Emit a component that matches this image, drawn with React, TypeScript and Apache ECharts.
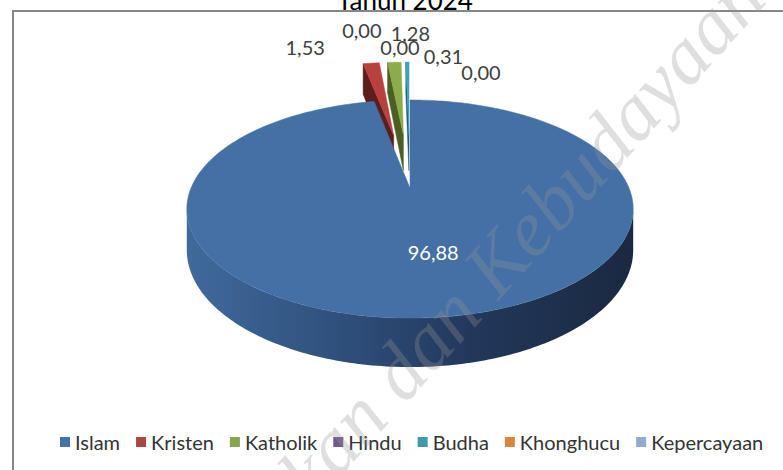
import React, { useEffect, useRef } from "react";
import * as echarts from "echarts";

// ---- data ----
const titleText = "Tahun 2024";
const categories = ["Islam", "Kristen", "Katholik", "Hindu", "Budha", "Khonghucu", "Kepercayaan"];
const values = [96.88, 1.53, 1.28, 0.0, 0.31, 0.0, 0.0];
const watermarkHead = "Pendidikan dan";
const watermarkTail = "Kebudayaan";

// ---- styles / layout ----
const legendColors = ["#4572A7", "#AA4643", "#89A54E", "#71588F", "#4198AF", "#DB843D", "#93A9CF"];
const topColors = ["#4470a5", "#b8403d", "#8cab4a", "#71588f", "#3fa3bd", "#db843d", "#93a9cf"];
const cutColors = ["#2b4a73", "#5c1d1c", "#4a5f23", "#3e2f50", "#1d5a69", "#7a4418", "#50607a"];
const explode = [0, 0.56, 0.56, 0.56, 0.56, 0.56, 0.56];
const seriesZ = [10, 6, 5, 4, 3, 2, 1];
// label offsets (px) from each slice's anchor point
const labelOffsets: number[][] = [[10, 0], [-66, -16], [16, -29], [-43, -32], [36, -6], [-10, -15], [71, 10]];

const CX = 410, CY = 188, R = 219, B = 105, H = 39.5, P = 0.193;
const WALL_FROM = 101, WALL_TO = 259;
const WM_SIZE = 80;
const WM_FILL = "rgba(150,150,150,0.3)";
const WM_X = 508, WM_Y = 310, WM_ROT = 0.838;

function proj(u: number, v: number, z: number): number[] {
  const w = 1 / (1 - P * v);
  return [CX + R * u * w, CY + (B * v + H * z) * w];
}

const fmt = (v: number) => v.toFixed(2).replace(".", ",");

function buildSlice(i: number, val: number, total: number, start: number) {
  const a0 = (start / total) * 360;
  const a1 = a0 + (val / total) * 360;
  const mid = (((a0 + a1) / 2) * Math.PI) / 180;
  const e = explode[i];
  const ex = e * Math.sin(mid), ey = -e * Math.cos(mid);
  const rim = (deg: number, z: number, r = 1) => {
    const a = (deg * Math.PI) / 180;
    return proj(r * Math.sin(a) + ex, -r * Math.cos(a) + ey, z);
  };
  const apex = (z: number) => proj(ex, ey, z);
  const children: any[] = [];
  if (val > 0) {
    if (i > 0) {
      children.push({
        type: "polygon",
        shape: { points: [apex(0), rim(a0, 0), rim(a0, 1), apex(1)] },
        style: { fill: cutColors[i], stroke: cutColors[i], lineWidth: 0.5 },
      });
    }
    const w0 = Math.max(a0, WALL_FROM), w1 = Math.min(a1, WALL_TO);
    if (w1 > w0) {
      const topPts: number[][] = [], botPts: number[][] = [];
      for (let d = w0; d <= w1 + 1e-6; d += 1) {
        topPts.push(rim(Math.min(d, w1), 0));
        botPts.push(rim(Math.min(d, w1), 1));
      }
      children.push({
        type: "polygon",
        shape: { points: topPts.concat(botPts.reverse()) },
        style: {
          fill: new echarts.graphic.LinearGradient(0, 0, 1, 0, [
            { offset: 0, color: "#406a9c" },
            { offset: 0.35, color: "#2f4f7b" },
            { offset: 0.65, color: "#22375a" },
            { offset: 1, color: "#1a2940" },
          ]),
        },
      });
    }
    const pts: number[][] = [apex(0)];
    const steps = Math.max(2, Math.ceil(a1 - a0));
    for (let k = 0; k <= steps; k++) pts.push(rim(a0 + ((a1 - a0) * k) / steps, 0));
    children.push({
      type: "polygon",
      shape: { points: pts },
      style: { fill: topColors[i], stroke: topColors[i], lineWidth: 0.5 },
    });
  }
  const anchor = i === 0 ? rim((a0 + a1) / 2, 0, 0.55) : rim((a0 + a1) / 2, 0, 1);
  children.push({
    type: "text",
    x: anchor[0] + labelOffsets[i][0],
    y: anchor[1] + labelOffsets[i][1],
    style: {
      text: fmt(val),
      fontFamily: "Lato",
      fontSize: 20,
      fill: i === 0 ? "#ffffff" : "#404040",
      align: "center",
      verticalAlign: "middle",
    },
  });
  return { type: "group", children };
}

export default function App() {
  const ref = useRef<HTMLDivElement>(null);
  useEffect(() => {
    if (!ref.current) return;
    const chart = echarts.init(ref.current, undefined, { renderer: "svg" });
    const total = values.reduce((a, b) => a + b, 0);
    const starts: number[] = [];
    let acc = 0;
    values.forEach((v) => {
      starts.push(acc);
      acc += v;
    });
    const series = categories.map((name, i) => ({
      type: "custom",
      name,
      coordinateSystem: "none",
      z: seriesZ[i],
      itemStyle: { color: legendColors[i] },
      data: [values[i]],
      renderItem: (_p: any, api: any) => buildSlice(i, api.value(0), total, starts[i]),
    }));
    chart.setOption({
      animation: false,
      legend: {
        data: categories,
        left: 55,
        top: 427,
        icon: "rect",
        itemWidth: 10,
        itemHeight: 10,
        itemGap: 16,
        textStyle: { fontFamily: "Lato", fontSize: 20, color: "#333333" },
      },
      graphic: [
        {
          type: "rect",
          shape: { x: 13, y: 11, width: 820, height: 520 },
          style: { fill: "none", stroke: "#878787", lineWidth: 2 },
          z: 0,
        },
        {
          type: "text",
          x: 405,
          y: 13,
          style: {
            text: titleText,
            fontFamily: "Lato",
            fontSize: 26,
            fill: "#000000",
            align: "center",
            verticalAlign: "bottom",
          },
          z: 20,
        },
        {
          type: "text",
          x: WM_X,
          y: WM_Y,
          rotation: WM_ROT,
          z: 100,
          silent: true,
          style: {
            text: watermarkHead + " ",
            fontFamily: "Liberation Serif",
            fontStyle: "italic",
            fontSize: WM_SIZE,
            fill: WM_FILL,
            align: "right",
            verticalAlign: "bottom",
          },
        },
        {
          type: "text",
          x: WM_X,
          y: WM_Y,
          rotation: WM_ROT,
          z: 100,
          silent: true,
          style: {
            text: watermarkTail,
            fontFamily: "Liberation Serif",
            fontStyle: "italic",
            fontSize: WM_SIZE,
            fill: WM_FILL,
            align: "left",
            verticalAlign: "bottom",
          },
        },
      ],
      series,
    });
    return () => chart.dispose();
  }, []);
  return (
    <div
      ref={ref}
      style={{ position: "absolute", left: 0, top: 0, width: 783, height: 470, background: "#ffffff" }}
    />
  );
}
